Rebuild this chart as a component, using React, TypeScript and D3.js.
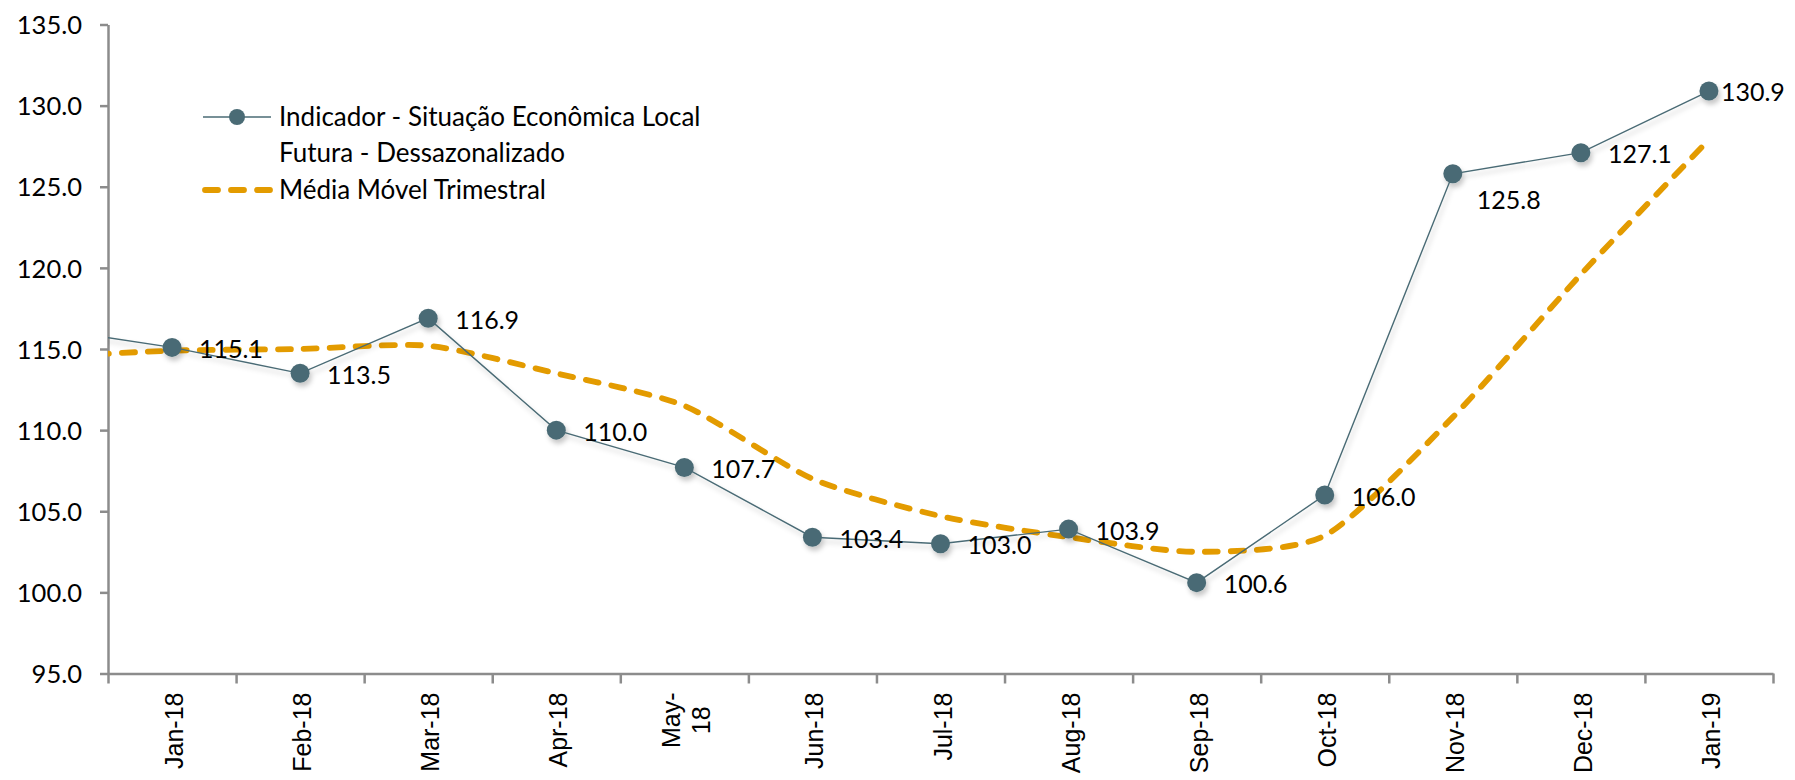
import * as d3 from 'd3';
import { useEffect, useRef } from 'react';

const WIDTH = 1795;
const HEIGHT = 780;
const MARGIN = { top: 24.5, right: 22, bottom: 106.5, left: 108 };

const categories = ['Jan-18', 'Feb-18', 'Mar-18', 'Apr-18', 'May-18', 'Jun-18', 'Jul-18', 'Aug-18', 'Sep-18', 'Oct-18', 'Nov-18', 'Dec-18', 'Jan-19'];
const indicador = [115.1, 113.5, 116.9, 110.0, 107.7, 103.4, 103.0, 103.9, 100.6, 106.0, 125.8, 127.1, 130.9];
const mediaMovel = [114.9, 115.0, 115.2, 113.5, 111.5, 107.0, 104.7, 103.4, 102.5, 103.5, 110.8, 119.6, 127.9];
// Dec-17: only the stub entering the plot from the left is visible
const prevIndicador = 116.3;
const prevMedia = 114.5;
const yTicks = [95, 100, 105, 110, 115, 120, 125, 130, 135];
const legendLabels = ['Indicador - Situação Econômica Local', 'Futura - Dessazonalizado', 'Média Móvel Trimestral'];

const LINE_COLOR = '#4a6b75';
const MA_COLOR = '#e39b00';
const AXIS_COLOR = '#8c8c8c';
const FONT = 'Lato, "Open Sans", sans-serif';

// label nudges (px) where Excel didn't put the label to the right
const labelShift: Record<string, [number, number]> = {
    'Nov-18': [24, 26],
    'Jan-19': [12, 1],
};

type Pt = { i: number; v: number };

export default function App() {
    const svgRef = useRef<SVGSVGElement>(null);

    useEffect(() => {
        document.body.style.margin = '0';
        if (!svgRef.current) return;
        const innerW = WIDTH - MARGIN.left - MARGIN.right;
        const innerH = HEIGHT - MARGIN.top - MARGIN.bottom;

        const x = d3.scaleLinear().domain([-0.5, categories.length - 0.5]).range([0, innerW]);
        const y = d3.scaleLinear().domain([95, 135]).range([innerH, 0]);

        const svg = d3.select(svgRef.current);
        svg.selectAll('*').remove();

        const defs = svg.append('defs');
        defs.append('clipPath').attr('id', 'plot-clip').append('rect').attr('x', 0).attr('y', -20).attr('width', innerW).attr('height', innerH + 20);
        defs.append('filter')
            .attr('id', 'shadow')
            .attr('x', '-10%').attr('y', '-10%').attr('width', '120%').attr('height', '130%')
            .append('feDropShadow')
            .attr('dx', 2).attr('dy', 4).attr('stdDeviation', 2.5)
            .attr('flood-color', '#000').attr('flood-opacity', 0.22);

        const g = svg.append('g').attr('transform', `translate(${MARGIN.left},${MARGIN.top})`);

        // y axis
        const yAxis = g.append('g').call(d3.axisLeft(y).tickValues(yTicks).tickSize(8).tickSizeOuter(0).tickFormat((d) => d3.format('.1f')(d as number)));
        yAxis.select('.domain').attr('stroke', AXIS_COLOR).attr('stroke-width', 2.5);
        yAxis.selectAll('.tick line').attr('stroke', AXIS_COLOR).attr('stroke-width', 2.5);
        yAxis.selectAll('.tick text')
            .attr('x', -26)
            .attr('dy', '0.36em')
            .style('font-family', FONT)
            .style('font-size', '25.5px')
            .attr('fill', '#000');

        // x axis: ticks on category boundaries, labels drawn separately
        const bounds = d3.range(categories.length + 1).map((k) => k - 0.5);
        const xAxis = g.append('g').attr('transform', `translate(0,${innerH})`)
            .call(d3.axisBottom(x).tickValues(bounds).tickSize(10).tickSizeOuter(0).tickFormat(() => ''));
        xAxis.select('.domain').attr('stroke', AXIS_COLOR).attr('stroke-width', 2.5);
        xAxis.selectAll('.tick line').attr('stroke', AXIS_COLOR).attr('stroke-width', 2.5);

        const xl = g.append('g')
            .style('font-family', '"Liberation Sans", Arial, sans-serif')
            .style('font-size', '25px')
            .attr('fill', '#000');
        categories.forEach((c, i) => {
            const cx = x(i);
            const top = innerH + 19;
            const lines = c === 'May-18' ? ['May-', '18'] : [c];
            if (lines.length === 1) {
                xl.append('text')
                    .attr('transform', `translate(${cx + 11},${top}) rotate(-90)`)
                    .attr('text-anchor', 'end')
                    .text(c);
            } else {
                // two lines centred on each other, block hung from the top
                const t0 = xl.append('text').attr('text-anchor', 'end').text(lines[0]);
                const len0 = (t0.node() as SVGTextElement).getComputedTextLength();
                t0.attr('transform', `translate(${cx - 4},${top}) rotate(-90)`);
                xl.append('text')
                    .attr('transform', `translate(${cx + 26},${top + len0 / 2}) rotate(-90)`)
                    .attr('text-anchor', 'middle')
                    .text(lines[1]);
            }
        });

        const plot = g.append('g').attr('clip-path', 'url(#plot-clip)');

        const maPts: Pt[] = [{ i: -1, v: prevMedia }, ...mediaMovel.map((v, i) => ({ i, v }))];
        const indPts: Pt[] = [{ i: -1, v: prevIndicador }, ...indicador.map((v, i) => ({ i, v }))];

        const maLine = d3.line<Pt>().x((d) => x(d.i)).y((d) => y(d.v)).curve(d3.curveCardinal.tension(0.3));
        const indLine = d3.line<Pt>().x((d) => x(d.i)).y((d) => y(d.v));

        // moving average (dashed, smoothed)
        plot.append('path')
            .datum(maPts)
            .attr('d', maLine)
            .attr('fill', 'none')
            .attr('stroke', MA_COLOR)
            .attr('stroke-width', 5.8)
            .attr('stroke-dasharray', '13 13')
            .attr('stroke-linecap', 'round');

        // indicator with markers
        const ind = plot.append('g').attr('filter', 'url(#shadow)');
        ind.append('path')
            .datum(indPts)
            .attr('d', indLine)
            .attr('fill', 'none')
            .attr('stroke', LINE_COLOR)
            .attr('stroke-width', 1.4);
        ind.selectAll('circle')
            .data(indPts.filter((d) => d.i >= 0))
            .enter()
            .append('circle')
            .attr('cx', (d) => x(d.i))
            .attr('cy', (d) => y(d.v))
            .attr('r', 9.5)
            .attr('fill', LINE_COLOR);

        // data labels
        g.append('g')
            .style('font-family', FONT)
            .style('font-size', '25px')
            .attr('fill', '#000')
            .selectAll('text')
            .data(indicador)
            .enter()
            .append('text')
            .attr('x', (v, i) => x(i) + (labelShift[categories[i]]?.[0] ?? 27))
            .attr('y', (v, i) => y(v) + (labelShift[categories[i]]?.[1] ?? 1.5))
            .attr('dy', '0.36em')
            .text((v) => d3.format('.1f')(v));

        // legend
        const lg = svg.append('g').style('font-family', FONT).style('font-size', '26px').attr('fill', '#000');
        lg.append('line').attr('x1', 203).attr('x2', 271).attr('y1', 117).attr('y2', 117).attr('stroke', LINE_COLOR).attr('stroke-width', 1.4);
        lg.append('circle').attr('cx', 237).attr('cy', 117).attr('r', 8).attr('fill', LINE_COLOR);
        lg.append('line')
            .attr('x1', 205).attr('x2', 270).attr('y1', 190).attr('y2', 190)
            .attr('stroke', MA_COLOR).attr('stroke-width', 5.8)
            .attr('stroke-dasharray', '13 13').attr('stroke-linecap', 'round');
        [126, 162, 199].forEach((by, k) => {
            lg.append('text').attr('x', 279).attr('y', by).text(legendLabels[k]);
        });
    }, []);

    return <svg ref={svgRef} width={WIDTH} height={HEIGHT} style={{ display: 'block', background: '#fff' }} />;
}
